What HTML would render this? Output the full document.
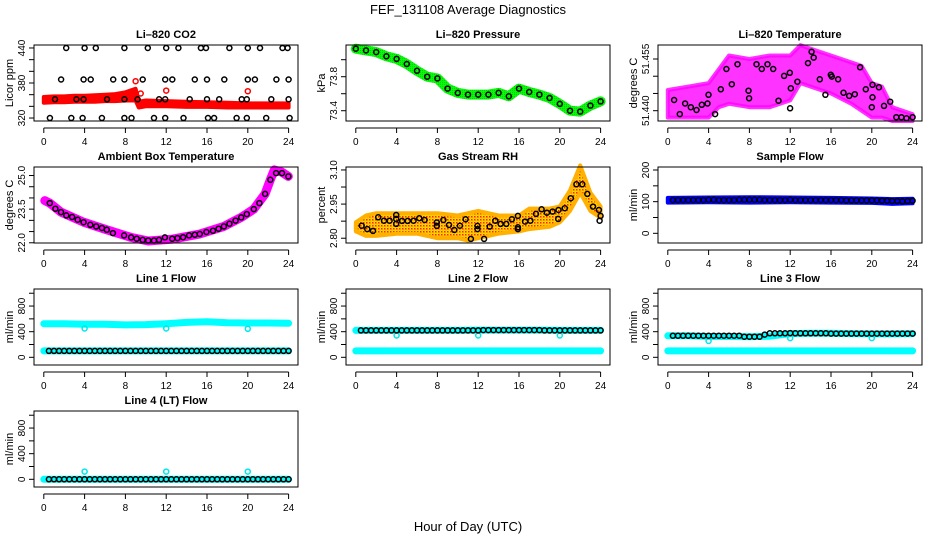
<!DOCTYPE html>
<html><head><meta charset="utf-8">
<style>
html,body{margin:0;padding:0;background:#fff;}
svg{display:block;font-family:"Liberation Sans",sans-serif;}
</style></head>
<body>
<svg id="chart" width="936" height="540" viewBox="0 0 936 540">
<text x="468" y="14" text-anchor="middle" font-size="13">FEF_131108  Average Diagnostics</text>
<text x="468" y="531" text-anchor="middle" font-size="13">Hour of Day (UTC)</text>
</svg>
<script>
// ---------- data ----------
const xTicks = [0,4,8,12,16,20,24];
const flowT = [0.5,1,1.5,2,2.5,3,3.5,4,4.5,5,5.5,6,6.5,7,7.5,8,8.5,9,9.5,10,10.5,11,11.5,12,12.5,13,13.5,14,14.5,15,15.5,16,16.5,17,17.5,18,18.5,19,19.5,20,20.5,21,21.5,22,22.5,23,23.5,24];

// CO2
const co2Hours = [2.2,4.0,5.1,7.9,10.2,12.0,13.2,15.4,15.9,18.2,20.0,21.2,23.4,23.9,
 1.7,3.9,4.6,6.8,7.9,9.7,11.9,12.6,14.8,16.0,17.7,20.0,20.7,22.8,24.0,
 1.1,3.2,3.9,6.2,7.9,9.2,11.3,11.9,14.3,16.0,17.2,19.4,19.9,22.3,24.0,
 0.6,2.7,3.8,5.7,7.9,8.6,10.8,11.9,13.7,16.1,16.7,18.9,19.9,21.8,24.1];
const co2Vals = [440,440,440,440,440,440,440,440,440,440,440,440,440,440,
 386,386,386,386,386,386,386,386,386,386,386,386,386,386,386,
 352,352,352,352,352,352,352,352,352,352,352,352,352,352,352,
 320,320,320,320,320,320,320,320,320,320,320,320,320,320,320];
const co2RedHours = [0,1,2,3,4,5,6,7,8,9,9.3,10,12,14,16,18,20,22,24];
const co2RedLo = [346,347,347,348,348,348,349,349,350,350,338,340,340,339,339,338,338,338,338];
const co2RedHi = [356,357,357,358,358,359,360,361,364,370,348,350,349,348,347,346,345,345,345];
const co2OutHours = [9.0,12.0,20.0,9.5];
const co2OutVals = [383,367,366,362];

// Pressure
const presHours = [0,1,2,3,4,5,6,7,8,9,10,11,12,13,14,15,16,17,18,19,20,21,22,23,24];
const presVals = [74.13,74.11,74.09,74.04,74.01,73.95,73.87,73.80,73.78,73.66,73.61,73.59,73.59,73.59,73.61,73.57,73.66,73.62,73.59,73.55,73.48,73.40,73.39,73.46,73.51];

// Li-820 temperature
const ltHours = [0.62,1.18,1.70,2.25,2.81,3.33,3.89,3.99,4.64,5.20,5.75,6.27,6.83,7.91,7.97,8.70,9.22,9.77,10.33,10.85,11.40,11.96,11.99,12.06,12.71,13.75,14.1,14.3,14.9,15.45,15.98,16.08,16.7,17.23,17.78,18.33,18.85,19.41,20.07,20.07,20.0,20.7,21.2,21.8,22.4,22.9,23.4,24.0];
const ltVals = [51.4431,51.4390,51.4421,51.4410,51.4402,51.4417,51.4421,51.4446,51.4390,51.4462,51.4521,51.4477,51.4535,51.4458,51.4436,51.4535,51.4521,51.4535,51.4521,51.4429,51.4501,51.4510,51.4407,51.4465,51.4484,51.4538,51.4571,51.4554,51.4491,51.4446,51.4504,51.4499,51.4491,51.4452,51.4443,51.4448,51.4526,51.4462,51.4475,51.4439,51.4410,51.4468,51.4414,51.4426,51.4381,51.4381,51.4378,51.4381];
const ltBandHours = [0,2,4,5,6,8,10,12,13,14,16,18,19,20,21,22,24];
const ltBandLo = [51.438,51.438,51.438,51.441,51.442,51.441,51.441,51.443,51.448,51.447,51.445,51.442,51.440,51.438,51.438,51.437,51.437];
const ltBandHi = [51.446,51.447,51.448,51.452,51.456,51.455,51.456,51.456,51.459,51.458,51.456,51.454,51.453,51.448,51.447,51.441,51.439];

// Ambient box temperature
const ambHours = [0.59,1.14,1.69,2.21,2.77,3.32,3.9,4.56,5.14,5.7,6.18,6.77,7.87,8.56,9.11,9.7,10.24,10.8,11.29,11.87,12.59,13.11,13.66,14.25,14.8,15.29,15.94,16.59,17.14,17.66,18.21,18.8,19.35,19.9,20.59,21.14,21.7,22.21,22.77,23.35,23.97];
const ambVals = [23.77,23.52,23.37,23.22,23.15,23.03,22.92,22.80,22.73,22.66,22.58,22.43,22.33,22.24,22.18,22.13,22.10,22.10,22.13,22.24,22.18,22.21,22.25,22.33,22.36,22.39,22.48,22.54,22.63,22.73,22.85,22.99,23.13,23.28,23.50,23.77,24.18,24.81,25.11,25.11,24.96];
const ambMagHours = [0.1,0.59,1.69,3.9,6.18,8.56,10.24,12.59,15.29,17.66,19.35,20.59,21.7,22.21,22.6,23.35,23.97];
const ambMagVals = [23.88,23.77,23.37,22.92,22.58,22.24,22.08,22.16,22.39,22.73,23.13,23.50,24.18,24.81,25.25,25.15,24.96];

// Gas stream RH
const rhHours = [0.58,1.13,1.69,2.2,2.76,3.31,3.96,3.96,3.96,4.54,5.09,5.67,6.23,6.75,7.94,7.94,8.59,9.14,9.66,10.21,10.76,11.28,11.93,11.93,12.58,13.13,13.68,14.2,14.75,15.3,15.89,15.89,15.89,16.6,17.12,17.67,18.22,18.74,19.29,19.84,19.87,20.49,21.08,21.63,22.21,22.7,23.25,23.83,23.9,24.0];
const rhVals = [2.855,2.840,2.832,2.892,2.877,2.877,2.885,2.863,2.902,2.876,2.876,2.877,2.888,2.880,2.854,2.869,2.880,2.858,2.836,2.855,2.883,2.797,2.854,2.840,2.797,2.851,2.877,2.863,2.863,2.883,2.840,2.898,2.848,2.873,2.877,2.907,2.927,2.912,2.917,2.885,2.924,2.932,2.976,3.037,3.037,2.995,2.939,2.924,2.877,2.898];
const rhBandHours = [0,1,2,4,6,8,10,11,12,14,16,17,19,20,21,22,23,24];
const rhBandLo = [2.83,2.81,2.81,2.82,2.82,2.80,2.80,2.79,2.80,2.82,2.83,2.84,2.85,2.87,2.92,3.00,2.92,2.89];
const rhBandHi = [2.87,2.90,2.91,2.91,2.91,2.91,2.90,2.91,2.92,2.90,2.90,2.93,2.93,2.94,3.01,3.12,3.00,2.94];

// Sample flow
const sampleVals = [105,105,105,105,105,105,105,106,106,105,105,105,105,106,106,106,106,106,105,105,105,105,105,106,105,105,105,105,105,105,105,105,105,105,104,104,104,104,104,104,104,103,103,102,102,101,102,103];
const sampleBandHours = [0,4,8,12,16,20,22,24];
const sampleBandLo = [97,98,97,98,97,96,93,95];
const sampleBandHi = [112,113,114,113,112,110,108,109];

// Line flows
const cyanT = [0,2,4,6,8,10,12,14,16,18,20,22,24];
const outT = [4,12,20];
const l1Black = [100,100,100,100,100,100,100,100,100,100,100,100,100,100,100,100,100,100,100,100,100,100,100,100,100,100,100,100,100,100,100,100,100,100,100,100,100,100,100,100,100,100,100,100,100,100,100,100];
const l1CyanHi = [525,525,515,515,505,510,525,545,555,540,535,535,530];
const l1CyanLo = [100,100,100,100,100,100,100,100,100,100,100,100,100];
const l1Out = [450,450,445];
const l2Black = [420,420,420,420,420,420,420,420,420,420,420,420,420,420,420,420,420,420,420,420,420,420,420,420,425,425,425,425,425,425,425,425,425,425,425,425,420,420,420,420,420,420,420,420,420,420,420,420];
const l2CyanHi = [420,420,420,420,420,420,425,425,425,425,420,420,420];
const l2CyanLo = [100,100,100,100,100,100,100,100,100,100,100,100,100];
const l2Out = [340,340,340];
const l3Black = [338,338,338,338,338,338,338,338,338,338,338,338,338,338,322,322,322,322,355,374,374,374,374,378,374,374,374,374,374,374,374,370,370,370,370,370,370,370,370,370,370,370,370,370,370,370,370,370];
const l3CyanHi = [335,335,325,325,320,330,370,375,375,370,365,365,370];
const l3CyanLo = [100,100,100,100,100,100,100,100,100,100,100,100,100];
const l3Out = [255,300,300];
const l4Black = [0,0,0,0,0,0,0,0,0,0,0,0,0,0,0,0,0,0,0,0,0,0,0,0,0,0,0,0,0,0,0,0,0,0,0,0,0,0,0,0,0,0,0,0,0,0,0,0];
const l4CyanHi = [0,0,0,0,0,0,0,0,0,0,0,0,0];
const l4Out = [120,120,120];

// ---------- drawing ----------
const NS = 'http://www.w3.org/2000/svg';
const svg = document.getElementById('chart');
const defs = document.createElementNS(NS,'defs');
defs.innerHTML = '<pattern id="rhpat" width="3" height="3" patternUnits="userSpaceOnUse"><rect width="3" height="3" fill="#ffe000"/><rect width="1.5" height="1.5" fill="#ff2000"/><rect x="1.5" y="1.5" width="1" height="1" fill="#ff8000"/></pattern><pattern id="grpat" width="2" height="2" patternUnits="userSpaceOnUse"><rect width="2" height="2" fill="#00ff00"/><rect width="1" height="1" fill="#20c020"/></pattern>';
svg.appendChild(defs);

function el(tag, attrs, parent){
  const e = document.createElementNS(NS, tag);
  for (const k in attrs) e.setAttribute(k, attrs[k]);
  (parent||svg).appendChild(e);
  return e;
}

function panel(p){
  const L = 34 + 312*p.col, R = L + 264, T = 45 + 122*p.row, B = T + 76;
  const g = el('g', {});
  
  
  const xs = h => L + 9.8 + h*10.2;
  const ys = v => B - (v - p.ylim[0])/(p.ylim[1]-p.ylim[0])*(B-T);
  p.draw(g, xs, ys);
  const box = el('rect', {x:L, y:T, width:R-L, height:B-T, fill:'none', stroke:'#000', 'stroke-width':1}, g);
  
  
  const t = el('text', {x:(L+R)/2, y:T-7, 'text-anchor':'middle', 'font-size':11, 'font-weight':'bold'}, g);
  t.textContent = p.title;
  
  
  const ax = B + 7;
  el('line', {x1:xs(0), x2:xs(24), y1:ax, y2:ax, stroke:'#000'}, g);
  xTicks.forEach(h => {
    el('line', {x1:xs(h), x2:xs(h), y1:ax, y2:ax+5, stroke:'#000'}, g);
    const lt = el('text', {x:xs(h), y:ax+17, 'text-anchor':'middle', 'font-size':10}, g);
    lt.textContent = h;
    
    
  });
  el('line', {x1:L, x2:L, y1:ys(p.yticks[0]), y2:ys(p.yticks[p.yticks.length-1]), stroke:'#000'}, g);
  p.yticks.forEach(v => el('line', {x1:L-5, x2:L, y1:ys(v), y2:ys(v), stroke:'#000'}, g));
  p.ylabels.forEach((s, i) => {
    const v = p.ylabelVals[i];
    const yt = el('text', {x:0, y:0, 'text-anchor':'middle', 'font-size':10, transform:`translate(${L-9},${ys(v)}) rotate(-90)`}, g);
    yt.textContent = s;
    
    
  });
  const yl = el('text', {x:0, y:0, 'text-anchor':'middle', 'font-size':11, transform:`translate(${L-21},${(T+B)/2}) rotate(-90)`}, g);
  yl.textContent = p.ylab;
  
  
}

function band(g, xs, ys, hrs, lo, hi, fill, name, op){
  let d = hrs.map((h,i)=>(i?'L':'M')+xs(h).toFixed(1)+','+ys(hi[i]).toFixed(1)).join('');
  for (let i=hrs.length-1;i>=0;i--) d += 'L'+xs(hrs[i]).toFixed(1)+','+ys(lo[i]).toFixed(1);
  const p = el('path', {d:d+'Z', fill:fill, 'fill-opacity':op||1, stroke:fill==='url(#rhpat)'?'#ffb000':fill, 'stroke-opacity':op||1, 'stroke-width':4, 'stroke-linejoin':'round'}, g);
  
  
}
function thick(g, xs, ys, hrs, vals, color, w, name){
  const d = hrs.map((h,i)=>(i?'L':'M')+xs(h).toFixed(1)+','+ys(vals[i]).toFixed(1)).join('');
  const p = el('path', {d:d, fill:'none', stroke:color, 'stroke-width':w, 'stroke-linecap':'round', 'stroke-linejoin':'round'}, g);
  
  
}
function circles(g, xs, ys, hrs, vals, color, name){
  hrs.forEach((h,i) => {
    const c = el('circle', {cx:xs(h).toFixed(1), cy:ys(vals[i]).toFixed(1), r:2.5, fill:'none', stroke:color, 'stroke-width':1.5}, g);
    
    
  });
}

panel({col:0,row:0,name:'co2-panel',title:'Li\u2013820 CO2',ylab:'Licor ppm',ylim:[314.9,445.1],
  yticks:[320,340,360,380,400,420,440],ylabels:['320','380','440'],ylabelVals:[320,380,440],
  draw:(g,xs,ys)=>{band(g,xs,ys,co2RedHours,co2RedLo,co2RedHi,'#ff0000','co2-cloud');
    circles(g,xs,ys,co2OutHours,co2OutVals,'#ff0000','co2-outlier');
    circles(g,xs,ys,co2Hours,co2Vals,'#000','co2-point');}});
panel({col:1,row:0,name:'pressure-panel',title:'Li\u2013820 Pressure',ylab:'kPa',ylim:[73.279,74.173],
  yticks:[73.4,73.6,73.8,74.0],ylabels:['73.4','73.8'],ylabelVals:[73.4,73.8],
  draw:(g,xs,ys)=>{thick(g,xs,ys,presHours,presVals,'url(#grpat)',10,'pressure-cloud');
    circles(g,xs,ys,presHours,presVals,'#000','pressure-point');}});
panel({col:2,row:0,name:'li-temp-panel',title:'Li\u2013820 Temperature',ylab:'degrees C',ylim:[51.43701,51.45906],
  yticks:[51.440,51.445,51.450,51.455],ylabels:['51.440','51.455'],ylabelVals:[51.440,51.455],
  draw:(g,xs,ys)=>{band(g,xs,ys,ltBandHours,ltBandLo,ltBandHi,'#ff00ff','li-temp-cloud',0.8);
    circles(g,xs,ys,ltHours,ltVals,'#000','li-temp-point');}});
panel({col:0,row:1,name:'ambient-panel',title:'Ambient Box Temperature',ylab:'degrees C',ylim:[21.99,25.38],
  yticks:[22,22.5,23,23.5,24,24.5,25],ylabels:['22.0','23.5','25.0'],ylabelVals:[22,23.5,25],
  draw:(g,xs,ys)=>{thick(g,xs,ys,ambMagHours,ambMagVals,'#ff00ff',9,'ambient-cloud');
    circles(g,xs,ys,ambHours,ambVals,'#000','ambient-point');}});
panel({col:1,row:1,name:'rh-panel',title:'Gas Stream RH',ylab:'percent',ylim:[2.779,3.113],
  yticks:[2.80,2.875,2.95,3.025,3.10],ylabels:['2.80','2.95','3.10'],ylabelVals:[2.80,2.95,3.10],
  draw:(g,xs,ys)=>{band(g,xs,ys,rhBandHours,rhBandLo,rhBandHi,'url(#rhpat)','rh-cloud');
    circles(g,xs,ys,rhHours,rhVals,'#000','rh-point');}});
panel({col:2,row:1,name:'sample-flow-panel',title:'Sample Flow',ylab:'ml/min',ylim:[-30.6,209.5],
  yticks:[0,50,100,150,200],ylabels:['0','100','200'],ylabelVals:[0,100,200],
  draw:(g,xs,ys)=>{band(g,xs,ys,sampleBandHours,sampleBandLo,sampleBandHi,'#0000ff','sample-cloud');
    circles(g,xs,ys,flowT,sampleVals,'#000','sample-point');}});

const flowTicks=[0,200,400,600,800,1000];
function flowPanel(col,row,name,title,black,hi,lo,out){
  panel({col:col,row:row,name:name,title:title,ylab:'ml/min',ylim:[-120,1066],
    yticks:flowTicks,ylabels:['0','400','800'],ylabelVals:[0,400,800],
    draw:(g,xs,ys)=>{thick(g,xs,ys,cyanT,hi,'#00ffff',7,'cyan-upper');
      if(lo) thick(g,xs,ys,cyanT,lo,'#00ffff',7,'cyan-lower');
      circles(g,xs,ys,outT,out,'#00e8e8','cyan-outlier');
      circles(g,xs,ys,flowT,black,'#000','flow-point');}});
}
flowPanel(0,2,'line1-flow-panel','Line 1 Flow',l1Black,l1CyanHi,l1CyanLo,l1Out);
flowPanel(1,2,'line2-flow-panel','Line 2 Flow',l2Black,l2CyanHi,l2CyanLo,l2Out);
flowPanel(2,2,'line3-flow-panel','Line 3 Flow',l3Black,l3CyanHi,l3CyanLo,l3Out);
flowPanel(0,3,'line4-flow-panel','Line 4 (LT) Flow',l4Black,l4CyanHi,null,l4Out);
</script>
</body></html>
